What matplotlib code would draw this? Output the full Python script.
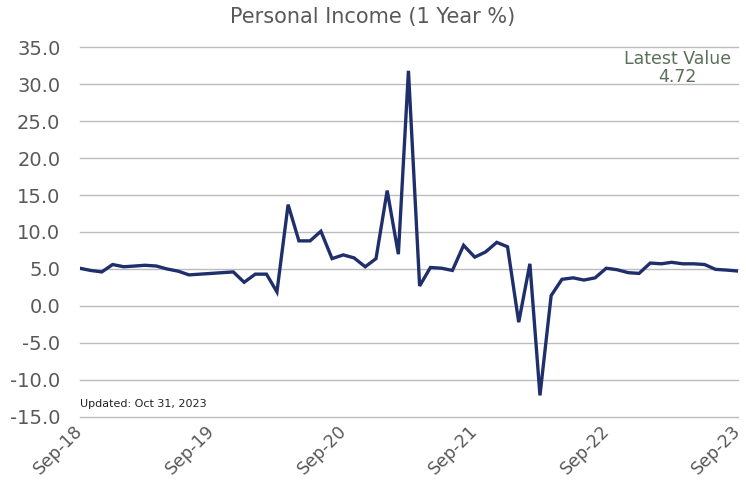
import pandas as pd
import matplotlib
matplotlib.use("Agg")
import matplotlib.pyplot as plt
import matplotlib.transforms as mtransforms

# monthly personal income, 1 year % change, Sep-18 .. Sep-23
dates = pd.date_range("2018-09-01", "2023-09-01", freq="MS")
values = [
    5.1, 4.8, 4.6, 5.6, 5.3, 5.4, 5.5, 5.4, 5.0, 4.7, 4.2, 4.3,
    4.4, 4.5, 4.6, 3.2, 4.3, 4.3, 1.9, 13.7, 8.8, 8.8, 10.1, 6.4,
    6.9, 6.5, 5.3, 6.4, 15.6, 7.0, 31.8, 2.7, 5.2, 5.1, 4.8, 8.2,
    6.6, 7.3, 8.6, 8.0, -2.2, 5.7, -12.1, 1.4, 3.6, 3.8, 3.5, 3.8,
    5.1, 4.9, 4.5, 4.4, 5.8, 5.7, 5.9, 5.7, 5.7, 5.6, 4.95, 4.85, 4.72,
]
tick_labels = ["Sep-18", "Sep-19", "Sep-20", "Sep-21", "Sep-22", "Sep-23"]
tick_dates = pd.to_datetime(["2018-09-01", "2019-09-01", "2020-09-01",
                             "2021-09-01", "2022-09-01", "2023-09-01"])
yticks = [-15, -10, -5, 0, 5, 10, 15, 20, 25, 30, 35]

grey = "#595959"

fig = plt.figure(figsize=(7.46, 4.91), dpi=100)
ax = fig.add_axes([0.107, 0.151, 0.882, 0.753])

ax.plot(dates, values, color="#1f2f6b", linewidth=2.4, solid_joinstyle="miter")

ax.set_ylim(-15, 35)
ax.set_yticks(yticks)
ax.set_yticklabels([f"{v:.1f}" for v in yticks])
ax.set_xlim(dates[0], dates[-1])
ax.set_xticks(tick_dates)
ax.set_xticklabels(tick_labels, rotation=45, ha="right", rotation_mode="anchor")

ax.grid(axis="y", color="#bcbcbc", linewidth=1.0)
for gl in ax.get_ygridlines():
    gl.set_clip_on(False)
ax.set_axisbelow(True)
for s in ax.spines.values():
    s.set_visible(False)
ax.tick_params(axis="both", length=0, colors=grey)
ax.tick_params(axis="y", labelsize=14, pad=14)
ax.tick_params(axis="x", labelsize=12.5, pad=4)

# nudge the rotated date labels so the last one stays inside the figure
shift = mtransforms.ScaledTranslation(-6 / 100, 1 / 100, fig.dpi_scale_trans)
for lbl in ax.get_xticklabels():
    lbl.set_transform(lbl.get_transform() + shift)

fig.text(0.5, 0.985, "Personal Income (1 Year %)", ha="center", va="top",
         color=grey, fontsize=15)

ax.text(0.908, 0.992, "Latest Value\n4.72", transform=ax.transAxes, ha="center", va="top",
        color="#5b7058", fontsize=12.5, linespacing=1.0)
ax.text(0.0, 0.02, "Updated: Oct 31, 2023", transform=ax.transAxes, ha="left", va="bottom",
        color="#222222", fontsize=8)

fig.savefig("out.png", dpi=100)
